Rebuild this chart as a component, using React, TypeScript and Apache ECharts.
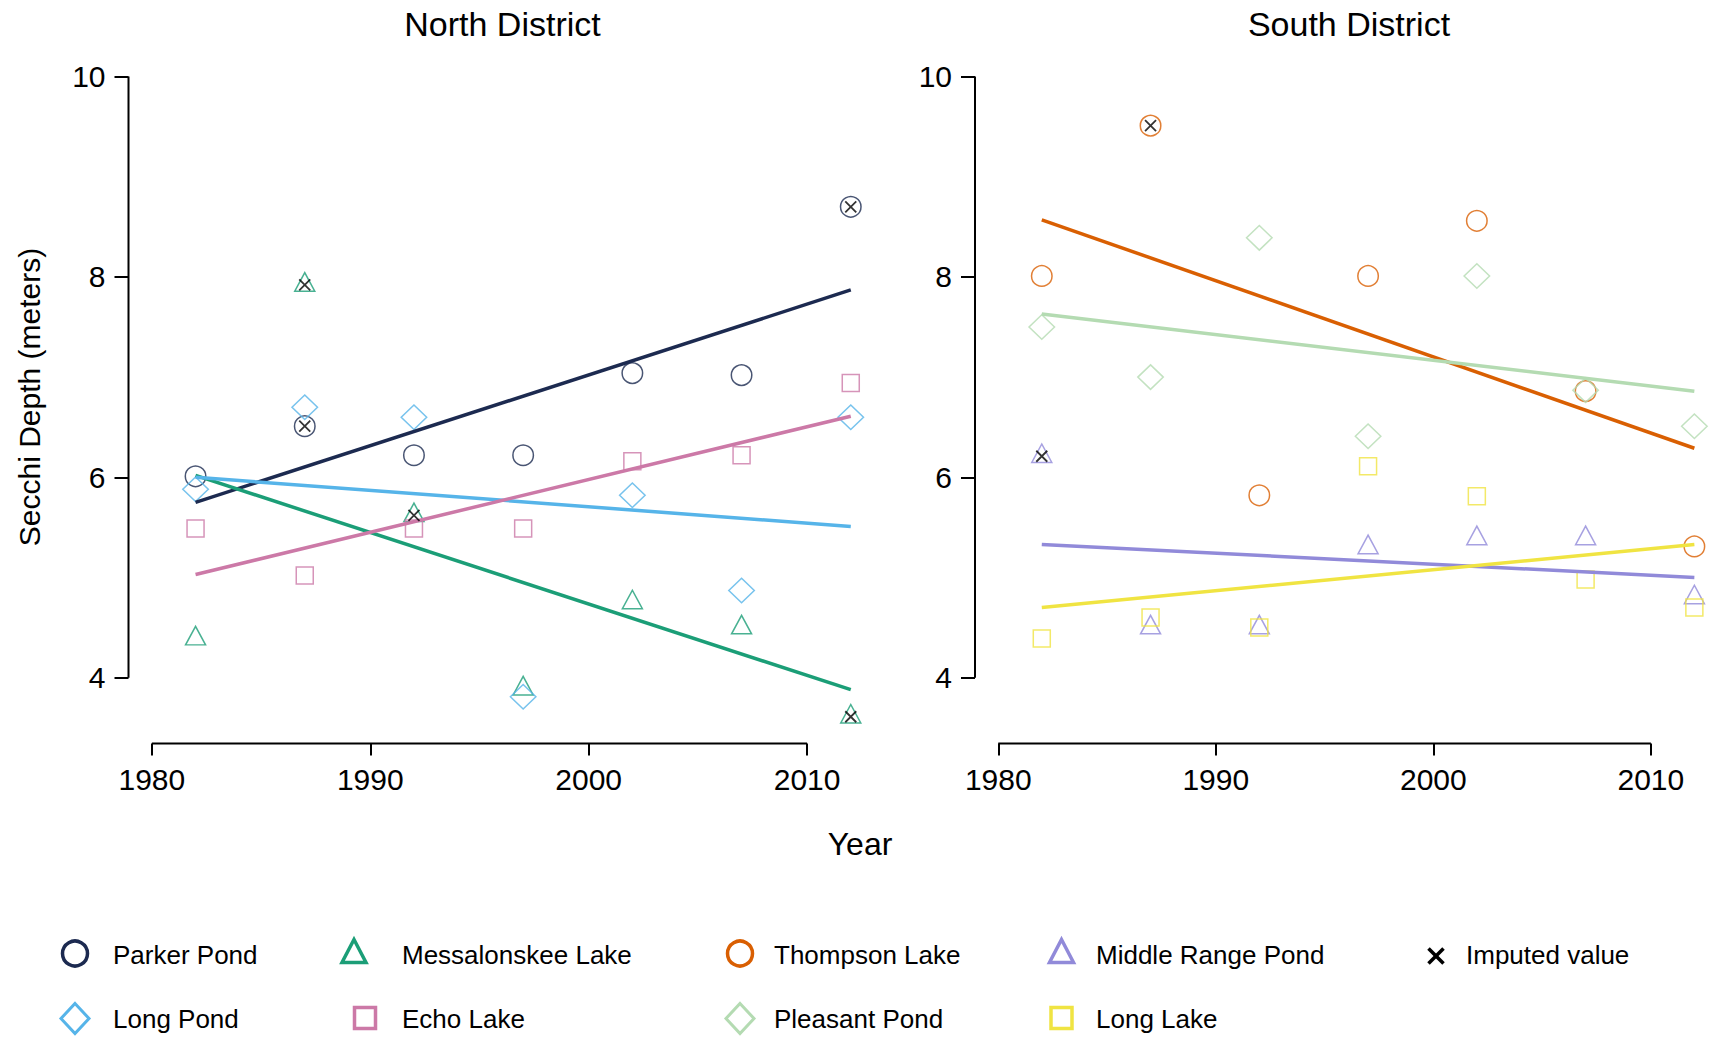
import React, { useEffect, useRef } from "react";
import * as echarts from "echarts";

// ---------------- data ----------------
const years = [1982, 1987, 1992, 1997, 2002, 2007, 2012];

// North District
const parkerPond = [6.01, 6.51, 6.22, 6.22, 7.04, 7.02, 8.7];
const messalonskeeLake = [4.39, 7.92, 5.62, 3.89, 4.75, 4.5, 3.61];
const longPond = [5.88, 6.7, 6.6, 3.81, 5.82, 4.87, 6.6];
const echoLake = [5.49, 5.02, 5.49, 5.49, 6.16, 6.22, 6.94];

// South District
const thompsonLake = [8.01, 9.51, 5.82, 8.01, 8.56, 6.86, 5.31];
const pleasantPond = [7.5, 7.0, 8.39, 6.41, 8.01, 6.87, 6.51];
const middleRangePond = [6.21, 4.5, 4.5, 5.3, 5.39, 5.39, 4.8];
const longLake = [4.39, 4.6, 4.5, 6.11, 5.81, 4.98, 4.7];

// trend line end points (1982, 2012)
const trendYears = [1982, 2012];
const parkerTrend = [5.75, 7.87];
const messalonskeeTrend = [6.02, 3.88];
const longPondTrend = [6.0, 5.51];
const echoTrend = [5.03, 6.61];
const thompsonTrend = [8.57, 6.29];
const pleasantTrend = [7.63, 6.86];
const middleRangeTrend = [5.33, 5.0];
const longLakeTrend = [4.7, 5.33];

// imputed values: years flagged per lake
const parkerImputed = [1987, 2012];
const messalonskeeImputed = [1987, 1992, 2012];
const thompsonImputed = [1987];
const middleRangeImputed = [1982];

const xTicks = [1980, 1990, 2000, 2010];
const yTicks = [4, 6, 8, 10];
const panelTitles = ["North District", "South District"];

// ---------------- styling / layout ----------------
const FONT = '"Liberation Sans", Arial, Helvetica, sans-serif';
const X_MIN = 1978.93;
const X_MAX = 2013.27;
const Y_MIN = 3.344;
const Y_MAX = 10.256;
const GRID_TOP = 50.9;
const GRID_H = 692.5;
const GRID_W = 750;
const GRID_LEFTS = [128.5, 975];

const C = {
  parker: "#1c2a50",
  messalonskee: "#1b9e77",
  longPond: "#56b4e9",
  echo: "#cc79a7",
  thompson: "#d95f02",
  pleasant: "#b4dbb2",
  middle: "#918ad9",
  longLake: "#f0e442",
};

type Lake = {
  name: string;
  panel: number;
  values: number[];
  trend: number[];
  imputed: number[];
  color: string;
  shape: "circle" | "triangle" | "diamond" | "rect";
};

const lakes: Lake[] = [
  { name: "Parker Pond", panel: 0, values: parkerPond, trend: parkerTrend, imputed: parkerImputed, color: C.parker, shape: "circle" },
  { name: "Messalonskee Lake", panel: 0, values: messalonskeeLake, trend: messalonskeeTrend, imputed: messalonskeeImputed, color: C.messalonskee, shape: "triangle" },
  { name: "Long Pond", panel: 0, values: longPond, trend: longPondTrend, imputed: [], color: C.longPond, shape: "diamond" },
  { name: "Echo Lake", panel: 0, values: echoLake, trend: echoTrend, imputed: [], color: C.echo, shape: "rect" },
  { name: "Thompson Lake", panel: 1, values: thompsonLake, trend: thompsonTrend, imputed: thompsonImputed, color: C.thompson, shape: "circle" },
  { name: "Pleasant Pond", panel: 1, values: pleasantPond, trend: pleasantTrend, imputed: [], color: C.pleasant, shape: "diamond" },
  { name: "Middle Range Pond", panel: 1, values: middleRangePond, trend: middleRangeTrend, imputed: middleRangeImputed, color: C.middle, shape: "triangle" },
  { name: "Long Lake", panel: 1, values: longLake, trend: longLakeTrend, imputed: [], color: C.longLake, shape: "rect" },
];

function symbolFor(shape: string) {
  if (shape === "circle") return { symbol: "circle", symbolSize: 20.5, symbolOffset: [0, 0] };
  if (shape === "triangle") return { symbol: "triangle", symbolSize: [20, 18.5], symbolOffset: [0, -3] };
  if (shape === "diamond") return { symbol: "diamond", symbolSize: [25.5, 24.5], symbolOffset: [0, 0] };
  return { symbol: "rect", symbolSize: 17, symbolOffset: [0, 0] };
}

// legend layout
const legendCols = [
  { sym: 75, text: 113 },
  { sym: 354, text: 402 },
  { sym: 740, text: 774 },
  { sym: 1061.5, text: 1096 },
  { sym: 1436, text: 1466 },
];
const legendRows = [954.5, 1018.5];
const legendPlacement: Record<string, [number, number, number?]> = {
  "Parker Pond": [0, 0],
  "Long Pond": [0, 1],
  "Messalonskee Lake": [1, 0],
  "Echo Lake": [1, 1, 11],
  "Thompson Lake": [2, 0],
  "Pleasant Pond": [2, 1],
  "Middle Range Pond": [3, 0],
  "Long Lake": [3, 1],
};

function legendShape(shape: string, cx: number, cy: number, color: string): any {
  const style = { fill: "none", stroke: color, lineWidth: 3.5 };
  if (shape === "circle") return { type: "circle", shape: { cx, cy: cy - 1, r: 12.5 }, style };
  if (shape === "triangle")
    return {
      type: "polygon",
      shape: { points: [[cx, cy - 15], [cx + 12, cy + 8], [cx - 12, cy + 8]] },
      style: { ...style, lineJoin: "miter" },
    };
  if (shape === "diamond")
    return {
      type: "polygon",
      shape: { points: [[cx, cy - 15], [cx + 14, cy], [cx, cy + 15], [cx - 14, cy]] },
      style: { ...style, lineWidth: 3 },
    };
  return { type: "rect", shape: { x: cx - 10.5, y: cy - 11, width: 21, height: 21 }, style };
}

export default function App() {
  const ref = useRef<HTMLDivElement>(null);

  useEffect(() => {
    if (!ref.current) return;
    const chart = echarts.init(ref.current, undefined, { renderer: "svg" });

    const grids = GRID_LEFTS.map((left) => ({ left, top: GRID_TOP, width: GRID_W, height: GRID_H }));

    const xAxes = [0, 1].map((i) => ({
      type: "value",
      gridIndex: i,
      min: X_MIN,
      max: X_MAX,
      axisLine: { show: false },
      splitLine: { show: false },
      axisTick: { show: true, customValues: xTicks, length: 12, lineStyle: { color: "#000", width: 2 } },
      axisLabel: {
        customValues: xTicks,
        fontSize: 30,
        color: "#000",
        margin: 21,
        fontFamily: FONT,
        formatter: (v: number) => String(Math.round(v)),
      },
    }));

    const yAxes = [0, 1].map((i) => ({
      type: "value",
      gridIndex: i,
      min: Y_MIN,
      max: Y_MAX,
      axisLine: { show: false },
      splitLine: { show: false },
      axisTick: { show: true, customValues: yTicks, length: 14, lineStyle: { color: "#000", width: 2 } },
      axisLabel: {
        customValues: yTicks,
        fontSize: 30,
        color: "#000",
        margin: 23,
        fontFamily: FONT,
        formatter: (v: number) => String(Math.round(v)),
      },
    }));

    const series: any[] = [];

    // axis lines (R style: only span the tick range)
    [0, 1].forEach((i) => {
      series.push({
        type: "line",
        xAxisIndex: i,
        yAxisIndex: i,
        data: [[X_MIN, yTicks[0]], [X_MIN, yTicks[yTicks.length - 1]]],
        symbol: "none",
        clip: false,
        silent: true,
        lineStyle: { color: "#000", width: 2 },
        z: 1,
      });
      series.push({
        type: "line",
        xAxisIndex: i,
        yAxisIndex: i,
        data: [[xTicks[0], Y_MIN], [xTicks[xTicks.length - 1], Y_MIN]],
        symbol: "none",
        clip: false,
        silent: true,
        lineStyle: { color: "#000", width: 2 },
        z: 1,
      });
    });

    lakes.forEach((lake) => {
      const s = symbolFor(lake.shape);
      series.push({
        name: lake.name,
        type: "scatter",
        xAxisIndex: lake.panel,
        yAxisIndex: lake.panel,
        data: years.map((y, k) => [y, lake.values[k]]),
        symbol: s.symbol,
        symbolSize: s.symbolSize,
        symbolOffset: s.symbolOffset,
        itemStyle: { color: "rgba(0,0,0,0)", borderColor: lake.color, borderWidth: 1.5 },
        silent: true,
        z: 2,
      });
    });

    lakes.forEach((lake) => {
      series.push({
        name: lake.name + " trend",
        type: "line",
        xAxisIndex: lake.panel,
        yAxisIndex: lake.panel,
        data: trendYears.map((y, k) => [y, lake.trend[k]]),
        symbol: "none",
        silent: true,
        lineStyle: { color: lake.color, width: 3.5 },
        z: 3,
      });
    });

    [0, 1].forEach((p) => {
      const pts: number[][] = [];
      lakes
        .filter((l) => l.panel === p)
        .forEach((l) => {
          l.imputed.forEach((yr) => {
            const k = years.indexOf(yr);
            pts.push([yr, l.values[k]]);
          });
        });
      series.push({
        name: "Imputed value",
        type: "scatter",
        xAxisIndex: p,
        yAxisIndex: p,
        data: pts,
        symbol: "path://M0,0L10,10M10,0L0,10",
        symbolSize: 11,
        itemStyle: { color: "rgba(0,0,0,0)", borderColor: "#000", borderWidth: 1.8 },
        silent: true,
        z: 4,
      });
    });

    const graphics: any[] = [];
    panelTitles.forEach((t, i) => {
      graphics.push({
        type: "text",
        x: GRID_LEFTS[i] + GRID_W / 2 - 1,
        y: 24,
        style: { text: t, font: `34px ${FONT}`, fill: "#000", align: "center", verticalAlign: "middle" },
      });
    });
    graphics.push({
      type: "text",
      x: 860,
      y: 844,
      style: { text: "Year", font: `32px ${FONT}`, fill: "#000", align: "center", verticalAlign: "middle" },
    });
    graphics.push({
      type: "text",
      x: 29,
      y: 397,
      rotation: Math.PI / 2,
      style: { text: "Secchi Depth (meters)", font: `30px ${FONT}`, fill: "#000", align: "center", verticalAlign: "middle" },
    });

    lakes.forEach((lake) => {
      const pl = legendPlacement[lake.name];
      const col = legendCols[pl[0]];
      const cy = legendRows[pl[1]];
      const cx = col.sym + (pl[2] || 0);
      graphics.push(legendShape(lake.shape, cx, cy, lake.color));
      graphics.push({
        type: "text",
        x: col.text,
        y: cy,
        style: { text: lake.name, font: `26px ${FONT}`, fill: "#000", align: "left", verticalAlign: "middle" },
      });
    });
    // imputed legend entry
    {
      const col = legendCols[4];
      const cy = legendRows[0] + 1.5;
      const h = 7.5;
      graphics.push({ type: "line", shape: { x1: col.sym - h, y1: cy - h, x2: col.sym + h, y2: cy + h }, style: { stroke: "#000", lineWidth: 3.5 } });
      graphics.push({ type: "line", shape: { x1: col.sym + h, y1: cy - h, x2: col.sym - h, y2: cy + h }, style: { stroke: "#000", lineWidth: 3.5 } });
      graphics.push({
        type: "text",
        x: col.text,
        y: legendRows[0],
        style: { text: "Imputed value", font: `26px ${FONT}`, fill: "#000", align: "left", verticalAlign: "middle" },
      });
    }

    chart.setOption({
      animation: false,
      backgroundColor: "#ffffff",
      textStyle: { fontFamily: FONT },
      grid: grids,
      xAxis: xAxes,
      yAxis: yAxes,
      series,
      graphic: graphics,
    });

    return () => chart.dispose();
  }, []);

  return (
    <div
      ref={ref}
      style={{ position: "absolute", left: 0, top: 0, width: 1722, height: 1038, background: "#fff" }}
    />
  );
}
